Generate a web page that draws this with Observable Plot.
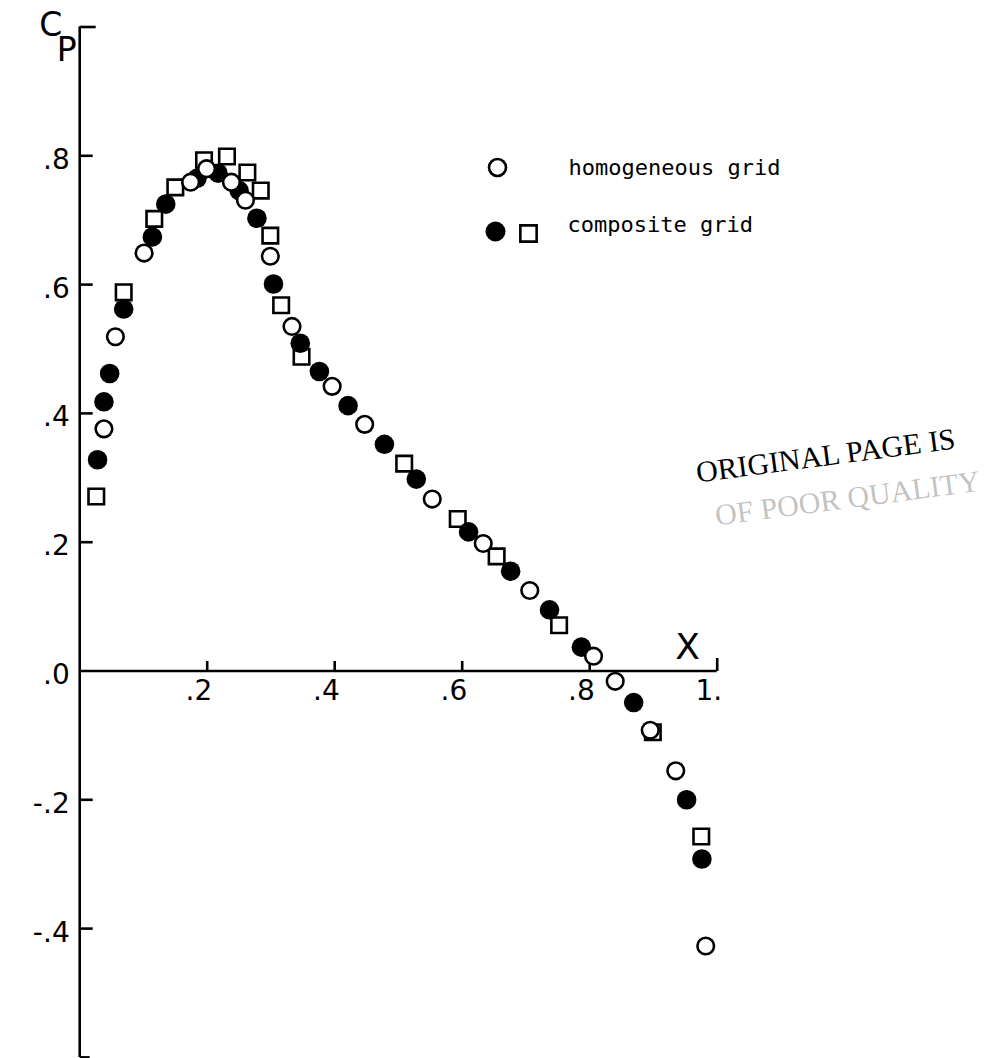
<!DOCTYPE html>
<html>
<head>
<meta charset="utf-8">
<script src="https://cdn.jsdelivr.net/npm/d3@7"></script>
<script src="https://cdn.jsdelivr.net/npm/@observablehq/plot@0.6"></script>
<style>
  html, body { margin: 0; padding: 0; background: #fff; }
  #chart svg { display: block; }
</style>
</head>
<body>
<div id="chart"></div>
<script>
// homogeneous grid (open circles)
const homogeneousX = [0.038, 0.056, 0.101, 0.174, 0.199, 0.238, 0.260, 0.299, 0.333, 0.396, 0.447, 0.553, 0.633, 0.706, 0.806, 0.840, 0.895, 0.935, 0.982];
const homogeneousY = [0.376, 0.519, 0.649, 0.759, 0.780, 0.759, 0.731, 0.644, 0.535, 0.442, 0.383, 0.267, 0.198, 0.125, 0.023, -0.016, -0.092, -0.155, -0.427];
// composite grid (filled circles)
const compositeCircleX = [0.028, 0.038, 0.047, 0.069, 0.114, 0.135, 0.184, 0.217, 0.250, 0.278, 0.304, 0.346, 0.376, 0.421, 0.478, 0.528, 0.610, 0.676, 0.737, 0.787, 0.869, 0.952, 0.976];
const compositeCircleY = [0.328, 0.418, 0.462, 0.562, 0.674, 0.725, 0.765, 0.773, 0.746, 0.703, 0.601, 0.509, 0.465, 0.412, 0.352, 0.298, 0.216, 0.155, 0.095, 0.037, -0.049, -0.200, -0.292];
// composite grid (open squares)
const compositeSquareX = [0.026, 0.069, 0.117, 0.150, 0.195, 0.231, 0.263, 0.284, 0.299, 0.316, 0.348, 0.509, 0.593, 0.654, 0.752, 0.899, 0.975];
const compositeSquareY = [0.271, 0.588, 0.702, 0.751, 0.793, 0.799, 0.774, 0.746, 0.676, 0.568, 0.488, 0.322, 0.236, 0.178, 0.071, -0.095, -0.257];

const xTickValues = [0.2, 0.4, 0.6, 0.8, 1.0];
const xTickLabels = [".2", ".4", ".6", ".8", "1."];
const yTickValues = [0.8, 0.6, 0.4, 0.2, 0.0, -0.2, -0.4];
const yTickLabels = [".8", ".6", ".4", ".2", ".0", "-.2", "-.4"];
const yInnerTicks = [0.8, 0.6, 0.4, 0.2, -0.2, -0.4];
const yDomain = [-0.6, 1.0];
const xDomain = [0, 1];
const legendLabels = ["homogeneous grid", "composite grid"];
const stampLines = ["ORIGINAL PAGE IS", "OF POOR QUALITY"];

const homogeneous = homogeneousX.map((x, i) => ({x, y: homogeneousY[i]}));
const compCircles = compositeCircleX.map((x, i) => ({x, y: compositeCircleY[i]}));
const compSquares = compositeSquareX.map((x, i) => ({x, y: compositeSquareY[i]}));

const sym = (fn) => ({draw(ctx) { fn(ctx); }});
const upTick = (len) => sym(ctx => { ctx.moveTo(0, 0); ctx.lineTo(0, -len); });
const rightTick = (len) => sym(ctx => { ctx.moveTo(0, 0); ctx.lineTo(len, 0); });

const tickFont = "DejaVu Sans";
const AX = 2.6;

const plot = Plot.plot({
  width: 998,
  height: 1058,
  marginLeft: 79.2,
  marginRight: 281.3,
  marginTop: 26.5,
  marginBottom: 1.1,
  x: {domain: xDomain, axis: null},
  y: {domain: yDomain, axis: null},
  style: {background: "#fff", color: "#000"},
  marks: [
    // axes lines
    Plot.ruleX([0], {y1: yDomain[0], y2: yDomain[1], stroke: "#000", strokeWidth: AX}),
    Plot.ruleY([0], {x1: xDomain[0], x2: xDomain[1], stroke: "#000", strokeWidth: AX}),
    // y ticks (inward)
    Plot.dot(yInnerTicks, {x: 0, y: d => d, symbol: rightTick(13), fill: "none", stroke: "#000", strokeWidth: AX}),
    Plot.dot([yDomain[1]], {x: 0, y: d => d, symbol: rightTick(16), fill: "none", stroke: "#000", strokeWidth: AX}),
    Plot.dot([yDomain[0]], {x: 0, y: d => d, symbol: rightTick(10), fill: "none", stroke: "#000", strokeWidth: AX}),
    // x ticks (upward)
    Plot.dot(xTickValues, {x: d => d, y: 0, symbol: d => upTick(d === 1 ? 13 : 10), fill: "none", stroke: "#000", strokeWidth: AX}),
    // tick labels
    Plot.text(xTickValues, {x: d => d, y: 0, text: (d, i) => xTickLabels[i], textAnchor: "end", dx: 5, lineAnchor: "top", dy: 9, fontSize: 28, fontFamily: tickFont, fill: "#000"}),
    Plot.text(yTickValues, {x: 0, y: d => d, text: (d, i) => yTickLabels[i], textAnchor: "end", dx: -10, lineAnchor: "middle", dy: 4, fontSize: 28, fontFamily: tickFont, fill: "#000"}),
    // axis labels
    Plot.text(["C"], {frameAnchor: "top-left", dx: -29, dy: -1.5, text: d => d, fontSize: 33, fontFamily: tickFont, fill: "#000", textAnchor: "middle", lineAnchor: "middle"}),
    Plot.text(["P"], {frameAnchor: "top-left", dx: -13, dy: 23.5, text: d => d, fontSize: 33, fontFamily: tickFont, fill: "#000", textAnchor: "middle", lineAnchor: "middle"}),
    Plot.text(["X"], {frameAnchor: "top-left", dx: 607.8, dy: 620.5, text: d => d, fontSize: 36, fontFamily: tickFont, fill: "#000", textAnchor: "middle", lineAnchor: "middle"}),
    // data
    Plot.dot(compSquares, {x: "x", y: "y", symbol: "square", r: 8.75, fill: "#fff", stroke: "#000", strokeWidth: 2.6}),
    Plot.dot(compCircles, {x: "x", y: "y", r: 9.8, fill: "#000", stroke: "none"}),
    Plot.dot(homogeneous, {x: "x", y: "y", r: 8.3, fill: "#fff", stroke: "#000", strokeWidth: 2.6}),
    // legend
    Plot.dot([0], {frameAnchor: "top-left", dx: 417.8, dy: 140.5, r: 8.5, fill: "#fff", stroke: "#000", strokeWidth: 2.6}),
    Plot.dot([0], {frameAnchor: "top-left", dx: 415.8, dy: 204.5, r: 10, fill: "#000", stroke: "none"}),
    Plot.dot([0], {frameAnchor: "top-left", dx: 448.8, dy: 206.5, symbol: "square", r: 9.2, fill: "#fff", stroke: "#000", strokeWidth: 2.6}),
    Plot.text([legendLabels[0]], {frameAnchor: "top-left", dx: 488.8, dy: 147.5, text: d => d, textAnchor: "start", lineAnchor: "bottom", fontSize: 22, fontFamily: "DejaVu Sans Mono", fill: "#000"}),
    Plot.text([legendLabels[1]], {frameAnchor: "top-left", dx: 487.8, dy: 205.2, text: d => d, textAnchor: "start", lineAnchor: "bottom", fontSize: 22, fontFamily: "DejaVu Sans Mono", fill: "#000"}),
    // stamp
    Plot.text([stampLines[0]], {frameAnchor: "top-left", dx: 617.8, dy: 455.5, text: d => d, textAnchor: "start", lineAnchor: "bottom", rotate: -7.5, fontSize: 30, fontFamily: "Liberation Serif", fill: "#000"}),
    Plot.text([stampLines[1]], {frameAnchor: "top-left", dx: 636.8, dy: 498.5, text: d => d, textAnchor: "start", lineAnchor: "bottom", rotate: -7.5, fontSize: 30, fontFamily: "Liberation Serif", fill: "#777", fillOpacity: 0.45})
  ]
});
document.getElementById("chart").appendChild(plot);
</script>
</body>
</html>
